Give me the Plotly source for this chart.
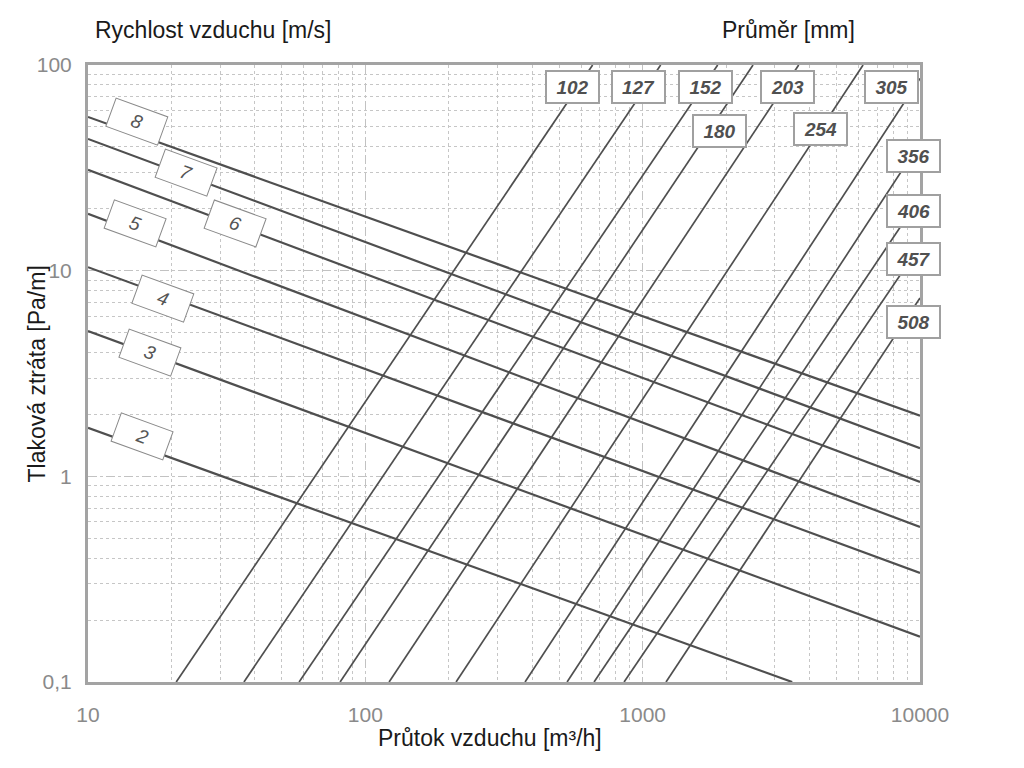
import numpy as np
import plotly.graph_objects as go

# ---------------- data ----------------
# constant air velocity lines [m/s]: flow [m3/h] and pressure loss [Pa/m] at both ends
velocities = ["2", "3", "4", "5", "6", "7", "8"]
vel_flow_start = [10, 10, 10, 10, 10, 10, 10]
vel_dp_start = [1.72, 5.09, 10.4, 18.9, 30.9, 43.7, 55.9]
vel_flow_end = [3460, 10000, 10000, 10000, 10000, 10000, 10000]
vel_dp_end = [0.1, 0.166, 0.339, 0.567, 0.939, 1.37, 1.97]

# constant diameter lines [mm]
diameters = ["102", "127", "152", "180", "203", "254", "305", "356", "406", "457", "508"]
diam_flow_start = [20.8, 36.5, 57.7, 81.1, 121.8, 212.4, 376.6, 533.9, 667.9, 857, 1214]
diam_dp_start = [0.1, 0.1, 0.1, 0.1, 0.1, 0.1, 0.1, 0.1, 0.1, 0.1, 0.1]
diam_flow_end = [660, 1161, 1864, 2500, 3652, 6234, 10000, 10000, 10000, 10000, 10000]
diam_dp_end = [100, 100, 100, 100, 100, 100, 86, 41.8, 22.6, 13.2, 7.36]

# axis ticks
x_tick_vals = [10, 100, 1000, 10000]
x_tick_text = ["10", "100", "1000", "10000"]
y_tick_vals = [0.1, 1, 10, 100]
y_tick_text = ["0,1", "1", "10", "100"]

# ---------------- label placement (layout) ----------------
vel_label_flow = [15.7, 16.7, 18.6, 14.8, 33.9, 22.5, 15.0]
vel_label_dp = [1.56, 4.01, 7.36, 16.9, 16.9, 29.9, 53.4]
diam_label_flow = [558, 966, 1679, 1886, 3342, 4381, 7925, 9484, 9484, 9484, 9484]
diam_label_dp = [78.6, 78.6, 78.6, 47.8, 78.6, 48.9, 78.6, 36.3, 19.5, 11.4, 5.66]

FONT = "Liberation Sans, Arial, sans-serif"
LINE_COLOR = "#4f4f4f"

fig = go.Figure()

for i, v in enumerate(velocities):
    fig.add_trace(go.Scatter(
        x=[vel_flow_start[i], vel_flow_end[i]],
        y=[vel_dp_start[i], vel_dp_end[i]],
        mode="lines", line=dict(color=LINE_COLOR, width=2.2),
        name=v + " m/s", showlegend=False, hoverinfo="skip"))

for i, d in enumerate(diameters):
    fig.add_trace(go.Scatter(
        x=[diam_flow_start[i], diam_flow_end[i]],
        y=[diam_dp_start[i], diam_dp_end[i]],
        mode="lines", line=dict(color=LINE_COLOR, width=1.7),
        name=d + " mm", showlegend=False, hoverinfo="skip"))

annotations = []
for i, v in enumerate(velocities):
    annotations.append(dict(
        x=np.log10(vel_label_flow[i]), y=np.log10(vel_label_dp[i]),
        xref="x", yref="y", text=v, showarrow=False, textangle=20,
        font=dict(family=FONT, size=19, color="#555555", style="italic"),
        bgcolor="white", bordercolor="#8a8a8a", borderwidth=1,
        width=50, height=25, borderpad=2, xanchor="center", yanchor="middle"))

for i, d in enumerate(diameters):
    annotations.append(dict(
        x=np.log10(diam_label_flow[i]), y=np.log10(diam_label_dp[i]),
        xref="x", yref="y", text=d, showarrow=False,
        font=dict(family=FONT, size=19, color="#505050", style="italic", weight="bold"),
        bgcolor="white", bordercolor="#a0a0a0", borderwidth=2,
        width=47, height=26, borderpad=2, xanchor="center", yanchor="middle"))

title_font = dict(family=FONT, size=23, color="#1a1a1a")
annotations += [
    dict(text="Rychlost vzduchu [m/s]", xref="paper", yref="paper", x=0.006, y=1.057,
         xanchor="left", yanchor="middle", showarrow=False, font=title_font),
    dict(text="Průměr [mm]", xref="paper", yref="paper", x=0.7596, y=1.057,
         xanchor="left", yanchor="middle", showarrow=False, font=title_font),
    dict(text="Průtok vzduchu [m³/h]", xref="paper", yref="paper", x=0.483, y=-0.091,
         xanchor="center", yanchor="middle", showarrow=False, font=title_font),
    dict(text="Tlaková ztráta [Pa/m]", xref="paper", yref="paper", x=-0.0613, y=0.5,
         xanchor="center", yanchor="middle", showarrow=False, textangle=-90, font=title_font),
]

axis_common = dict(
    type="log", showline=True, mirror=True, linecolor="#a3a3a3", linewidth=3,
    showgrid=True, gridcolor="#c2c2c2", gridwidth=1, griddash="dash",
    zeroline=False, ticks="",
    tickfont=dict(family=FONT, size=21, color="#8a8a8a"),
    minor=dict(showgrid=True, gridcolor="#c6c6c6", griddash="dot", gridwidth=1, dtick="D1", ticks=""),
)

fig.update_xaxes(range=[1, 4], tickvals=x_tick_vals, ticktext=x_tick_text,
                 ticklabelstandoff=12, **axis_common)
fig.update_yaxes(range=[-1, 2], tickvals=y_tick_vals, ticktext=y_tick_text,
                 ticklabelstandoff=9, **axis_common)

# the page body adds an 8px offset; compensate so the plot frame lands at x 88-920, y 65-682
fig.update_layout(
    width=1016, height=760,
    margin=dict(l=80, r=104, t=57, b=86),
    paper_bgcolor="white", plot_bgcolor="white",
    showlegend=False,
    annotations=annotations,
)

fig.write_html("out.html")
